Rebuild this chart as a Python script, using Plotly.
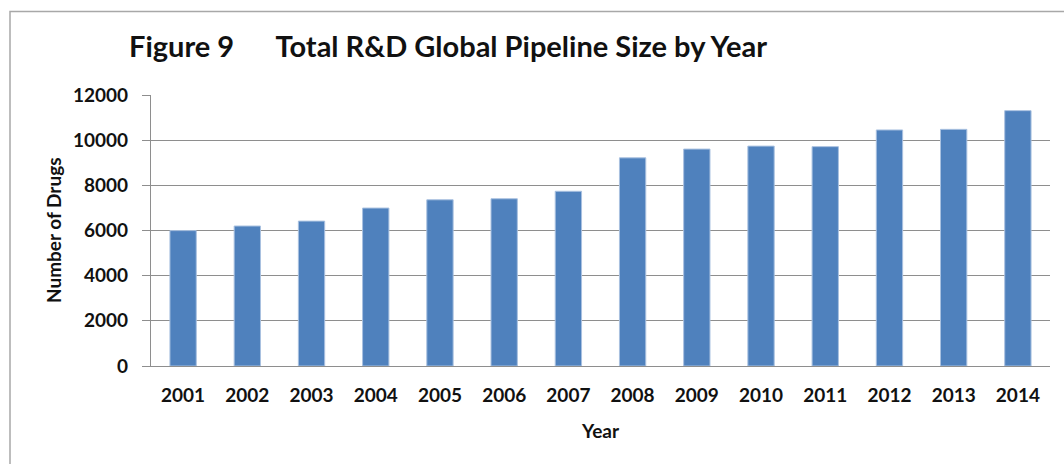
import plotly.graph_objects as go

years = ["2001", "2002", "2003", "2004", "2005", "2006", "2007",
         "2008", "2009", "2010", "2011", "2012", "2013", "2014"]
drugs = [5995, 6198, 6416, 6994, 7360, 7406, 7737,
         9217, 9605, 9737, 9713, 10452, 10479, 11307]
y_ticks = [0, 2000, 4000, 6000, 8000, 10000, 12000]
y_tick_labels = [str(v) for v in y_ticks]

FONT = "Lato"
BAR = "#4F81BD"
GRID = "#8E8E8E"

fig = go.Figure(
    go.Bar(
        x=years,
        y=drugs,
        marker=dict(color=BAR, line=dict(color="#A9C1E0", width=1)),
        width=0.41,
    )
)

fig.update_layout(
    width=1064,
    height=464,
    margin=dict(l=151, r=14, t=95, b=98),
    paper_bgcolor="white",
    plot_bgcolor="white",
    showlegend=False,
    font=dict(family=FONT, size=19, color="#111111"),
    title=dict(
        text="<b>Figure 9\u00a0\u00a0\u00a0\u00a0\u00a0\u00a0Total R&amp;D Global Pipeline Size by Year</b>",
        x=129 / 1064,
        xanchor="left",
        xref="container",
        y=1 - 47 / 464,
        yanchor="middle",
        yref="container",
        font=dict(family=FONT, size=29, color="#111111"),
    ),
    xaxis=dict(
        type="category",
        showline=True,
        linecolor=GRID,
        linewidth=1.3,
        showgrid=False,
        ticks="",
        ticklabelstandoff=12,
        tickfont=dict(family=FONT, size=19, weight="bold"),
    ),
    yaxis=dict(
        range=[0, 12000],
        tickvals=y_ticks,
        ticktext=y_tick_labels,
        showline=True,
        linecolor=GRID,
        linewidth=1.3,
        showgrid=True,
        gridcolor=GRID,
        gridwidth=1.3,
        ticks="outside",
        ticklen=8,
        tickcolor=GRID,
        tickwidth=1.3,
        ticklabelstandoff=10,
        tickfont=dict(family=FONT, size=19, weight="bold"),
        zeroline=False,
    ),
    annotations=[
        dict(
            text="<b>Year</b>",
            xref="paper", yref="paper",
            x=0.5, y=-(430 - 366) / 271,
            xanchor="center", yanchor="middle",
            showarrow=False,
            font=dict(family=FONT, size=19),
        ),
        dict(
            text="<b>Number of Drugs</b>",
            xref="paper", yref="paper",
            x=(53 - 151) / 899, y=(366 - 230) / 271,
            xanchor="center", yanchor="middle",
            textangle=-90,
            showarrow=False,
            font=dict(family=FONT, size=19),
        ),
    ],
    shapes=[
        dict(
            type="rect",
            xref="paper", yref="paper",
            x0=(10 - 151) / 899, x1=(1075 - 151) / 899,
            y0=-(480 - 366) / 271, y1=1 + (95 - 11.5) / 271,
            line=dict(color="#A8A8A8", width=1.5),
            fillcolor="rgba(0,0,0,0)",
            layer="below",
        )
    ],
)

fig.write_html("out.html")
